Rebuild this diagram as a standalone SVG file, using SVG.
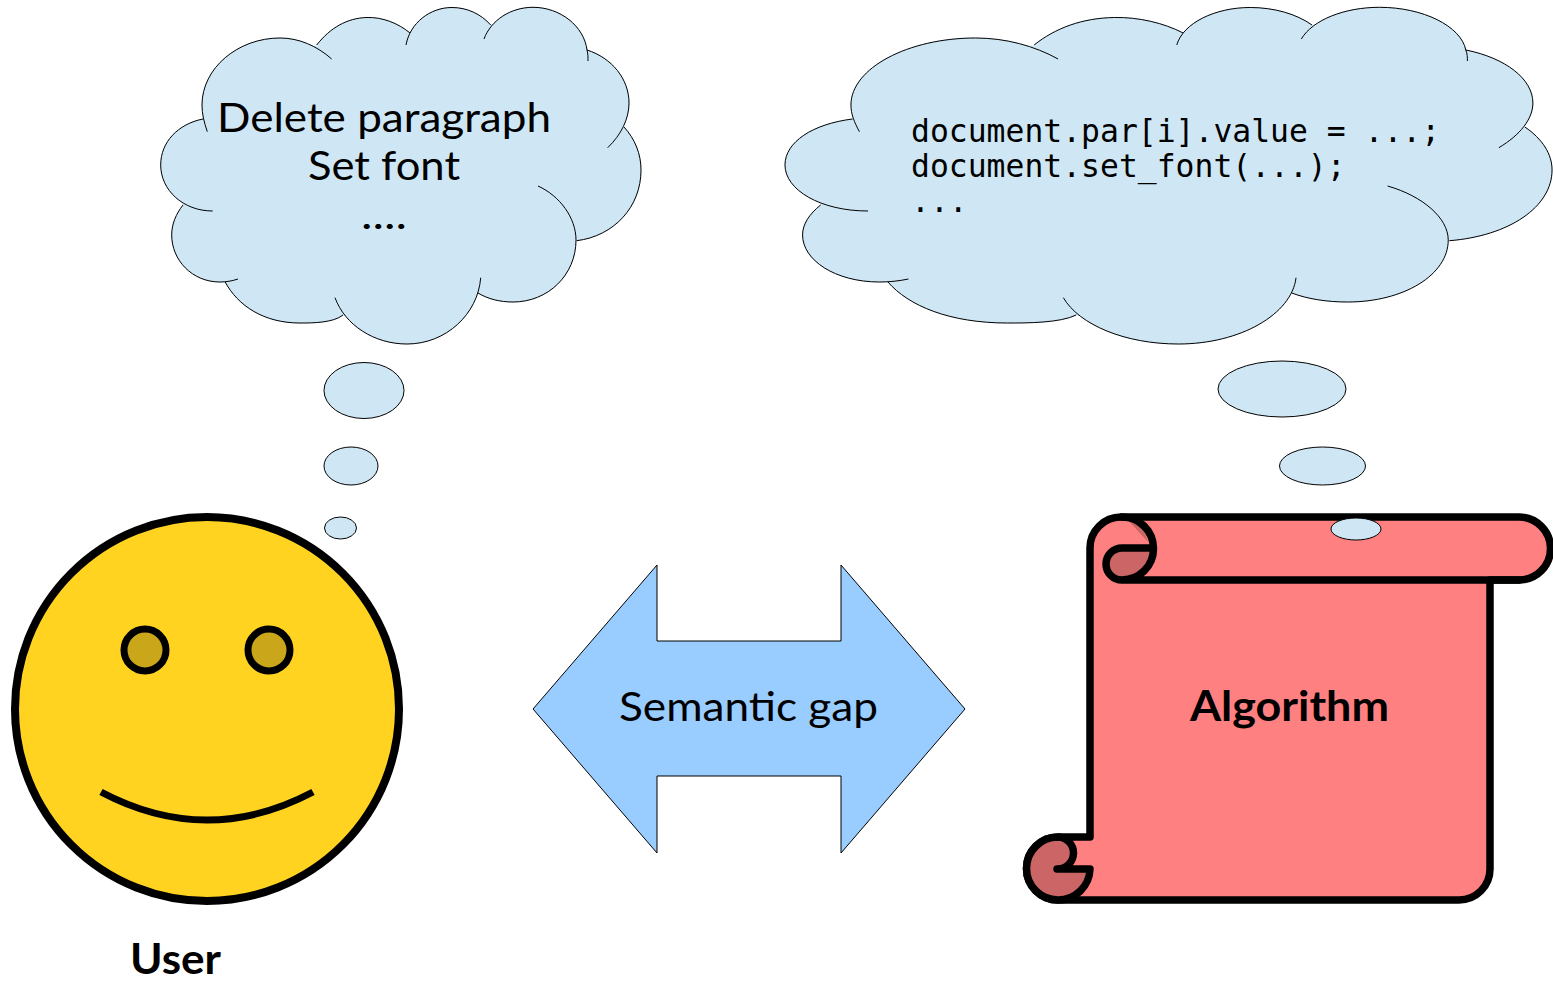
<svg xmlns="http://www.w3.org/2000/svg" xmlns:xlink="http://www.w3.org/1999/xlink" width="1553" height="981" viewBox="0 0 1553 981">
<style>
.lbl{font-family:"Lato","Open Sans","Liberation Sans",sans-serif;fill:#000;font-size:41.500px}
.bold{font-weight:700}
.code{font-family:"DejaVu Sans Mono","Liberation Mono",monospace;font-size:31.400px;fill:#000}
.bub{fill:#cfe7f5;stroke:#000;stroke-width:1}
.ln{fill:none;stroke:#000;stroke-width:1;vector-effect:non-scaling-stroke}
.fl{fill:#cfe7f5;stroke:#cfe7f5;stroke-width:1;vector-effect:non-scaling-stroke}
.ink{stroke:#000;stroke-width:7.500;stroke-linejoin:round;stroke-linecap:round}
.dark{fill:#cc6666;stroke:none}
</style>
<defs>
<g id="cloud">
<path class="fl" d="M203,119 L270,50 L317,46 L365,28 L408,33 L452,20 L490.7,25 L535,20 L587,50 L615,100 L624,127 L630,170 L576.700,240.700 L513,290 L478,293 L407,332 L343,315 L300,312 L225,281.700 L200,240 L183,205 L172,165 Z"/>
<path class="fl" d="M207.3,131.7 C204,122 202,114 202,105 C202,68 238,38 280,38 C299,38 317,46 331.7,59 M316.7,45 C330,28 347,18 367,17.5 C382,17 398,23 410,33 M406,45 C410,23 430,7.5 452,7.5 C467,7.5 481,14 490.7,25 M484,39 C491,20 511,7.3 533,7.3 C560,7.3 584,26 587,50 C588,54 588,57 588,61 M587,50 C612,58 629,79 629,103 C629,119 621,135 607.7,147.7 M624,127 C635,139 641,154 641,170 C641,207 614,236 576.7,240.7 M538,186 C560,196 576,218 576,240 C576,275 548,302 513,302 C500,302 488,299 478,293 M480.7,277.7 C478,314 446,344 407,344 C374,344 345,325 335,297.7 M343,315 C333,323 312,323 300,323 C264,323 238,306 225,281.7 M238,279 C232,281 226,282 220,282 C192,282 171.7,260 171.7,235 C171.7,224 176,214 183,205 M212.7,211 C183,211 160.7,190 160.7,165 C160.7,142 178,124 203,119"/>
<path class="ln" d="M207.3,131.7 C204,122 202,114 202,105 C202,68 238,38 280,38 C299,38 317,46 331.7,59 M316.7,45 C330,28 347,18 367,17.5 C382,17 398,23 410,33 M406,45 C410,23 430,7.5 452,7.5 C467,7.5 481,14 490.7,25 M484,39 C491,20 511,7.3 533,7.3 C560,7.3 584,26 587,50 C588,54 588,57 588,61 M587,50 C612,58 629,79 629,103 C629,119 621,135 607.7,147.7 M624,127 C635,139 641,154 641,170 C641,207 614,236 576.7,240.7 M538,186 C560,196 576,218 576,240 C576,275 548,302 513,302 C500,302 488,299 478,293 M480.7,277.7 C478,314 446,344 407,344 C374,344 345,325 335,297.7 M343,315 C333,323 312,323 300,323 C264,323 238,306 225,281.7 M238,279 C232,281 226,282 220,282 C192,282 171.7,260 171.7,235 C171.7,224 176,214 183,205 M212.7,211 C183,211 160.7,190 160.7,165 C160.7,142 178,124 203,119"/>
</g>
</defs>
<g id="user-cloud">
<use href="#cloud" xlink:href="#cloud"/>
<text class="lbl" x="217" y="132" textLength="334" lengthAdjust="spacingAndGlyphs">Delete paragraph</text>
<text class="lbl" x="308" y="180" textLength="152" lengthAdjust="spacingAndGlyphs">Set font</text>
<text class="lbl" x="361" y="229" textLength="46" lengthAdjust="spacingAndGlyphs">....</text>
</g>
<g id="user-bubbles">
<ellipse class="bub" cx="364" cy="390.5" rx="40" ry="28"/>
<ellipse class="bub" cx="351" cy="466" rx="27" ry="19"/>
<ellipse class="bub" cx="340.5" cy="528" rx="16" ry="11"/>
</g>
<g id="algo-cloud">
<use href="#cloud" xlink:href="#cloud" transform="translate(785 0) scale(1.597 1) translate(-160.7 0)"/>
<text class="code" x="911" y="142">document.par[i].value = ...;</text>
<text class="code" x="911" y="177">document.set_font(...);</text>
<text class="code" x="911" y="212">...</text>
</g>
<g id="user">
<circle cx="207" cy="709" r="192" fill="#ffd320" stroke="#000" stroke-width="8"/>
<circle cx="145" cy="650" r="21" fill="#c9a61a" stroke="#000" stroke-width="7"/>
<circle cx="269" cy="650" r="21" fill="#c9a61a" stroke="#000" stroke-width="7"/>
<path d="M101,792 Q207,848 313,792" fill="none" stroke="#000" stroke-width="7"/>
<text class="lbl bold" x="130" y="974" textLength="91" lengthAdjust="spacingAndGlyphs">User</text>
</g>
<g id="gap">
<polygon points="533,709 657,565 657,641 841,641 841,565 965,709 841,853 841,776 657,776 657,853" fill="#99ccff" stroke="#000" stroke-width="1"/>
<text class="lbl" x="619" y="721" textLength="259" lengthAdjust="spacingAndGlyphs">Semantic gap</text>
</g>
<g id="algorithm">
<path class="ink" fill="#ff8080" d="M1090,548 A31,31 0 0 1 1121,517 L1519,517 A31.500,31.500 0 0 1 1519,580 L1490,580 L1490,869 A31,31 0 0 1 1459,900 L1058,900 A31.500,31.500 0 0 1 1058,837 L1090,837 L1090,548 Z"/>
<path class="dark" d="M1153,548 L1122,548 A16,16 0 0 0 1122,580 A32,32 0 0 0 1153,548 Z"/>
<path class="dark" d="M1127,519 L1148,542 A31,31 0 0 0 1127,519 Z"/>
<path class="dark" d="M1058,837 A31.500,31.500 0 0 0 1058,900 A32,32 0 0 0 1090,869 L1057,869 A16,16 0 0 0 1058,837 Z"/>
<path class="ink" fill="none" d="M1122,517 A31,31 0 0 1 1122,580 A16,16 0 0 1 1122,548 L1153,548 M1122,580 L1519,580 M1058,837 A16,16 0 0 1 1057,869 L1090,869 M1090,869 A32,32 0 0 1 1058,900 M1058,900 A31.500,31.500 0 0 1 1058,837"/>
<text class="lbl bold" x="1190" y="721" textLength="199" lengthAdjust="spacingAndGlyphs">Algorithm</text>
</g>
<g id="algo-bubbles">
<ellipse class="bub" cx="1282" cy="389" rx="64" ry="28"/>
<ellipse class="bub" cx="1322.500" cy="466" rx="43" ry="19"/>
<ellipse class="bub" cx="1356" cy="529" rx="25" ry="11"/>
</g>
</svg>
